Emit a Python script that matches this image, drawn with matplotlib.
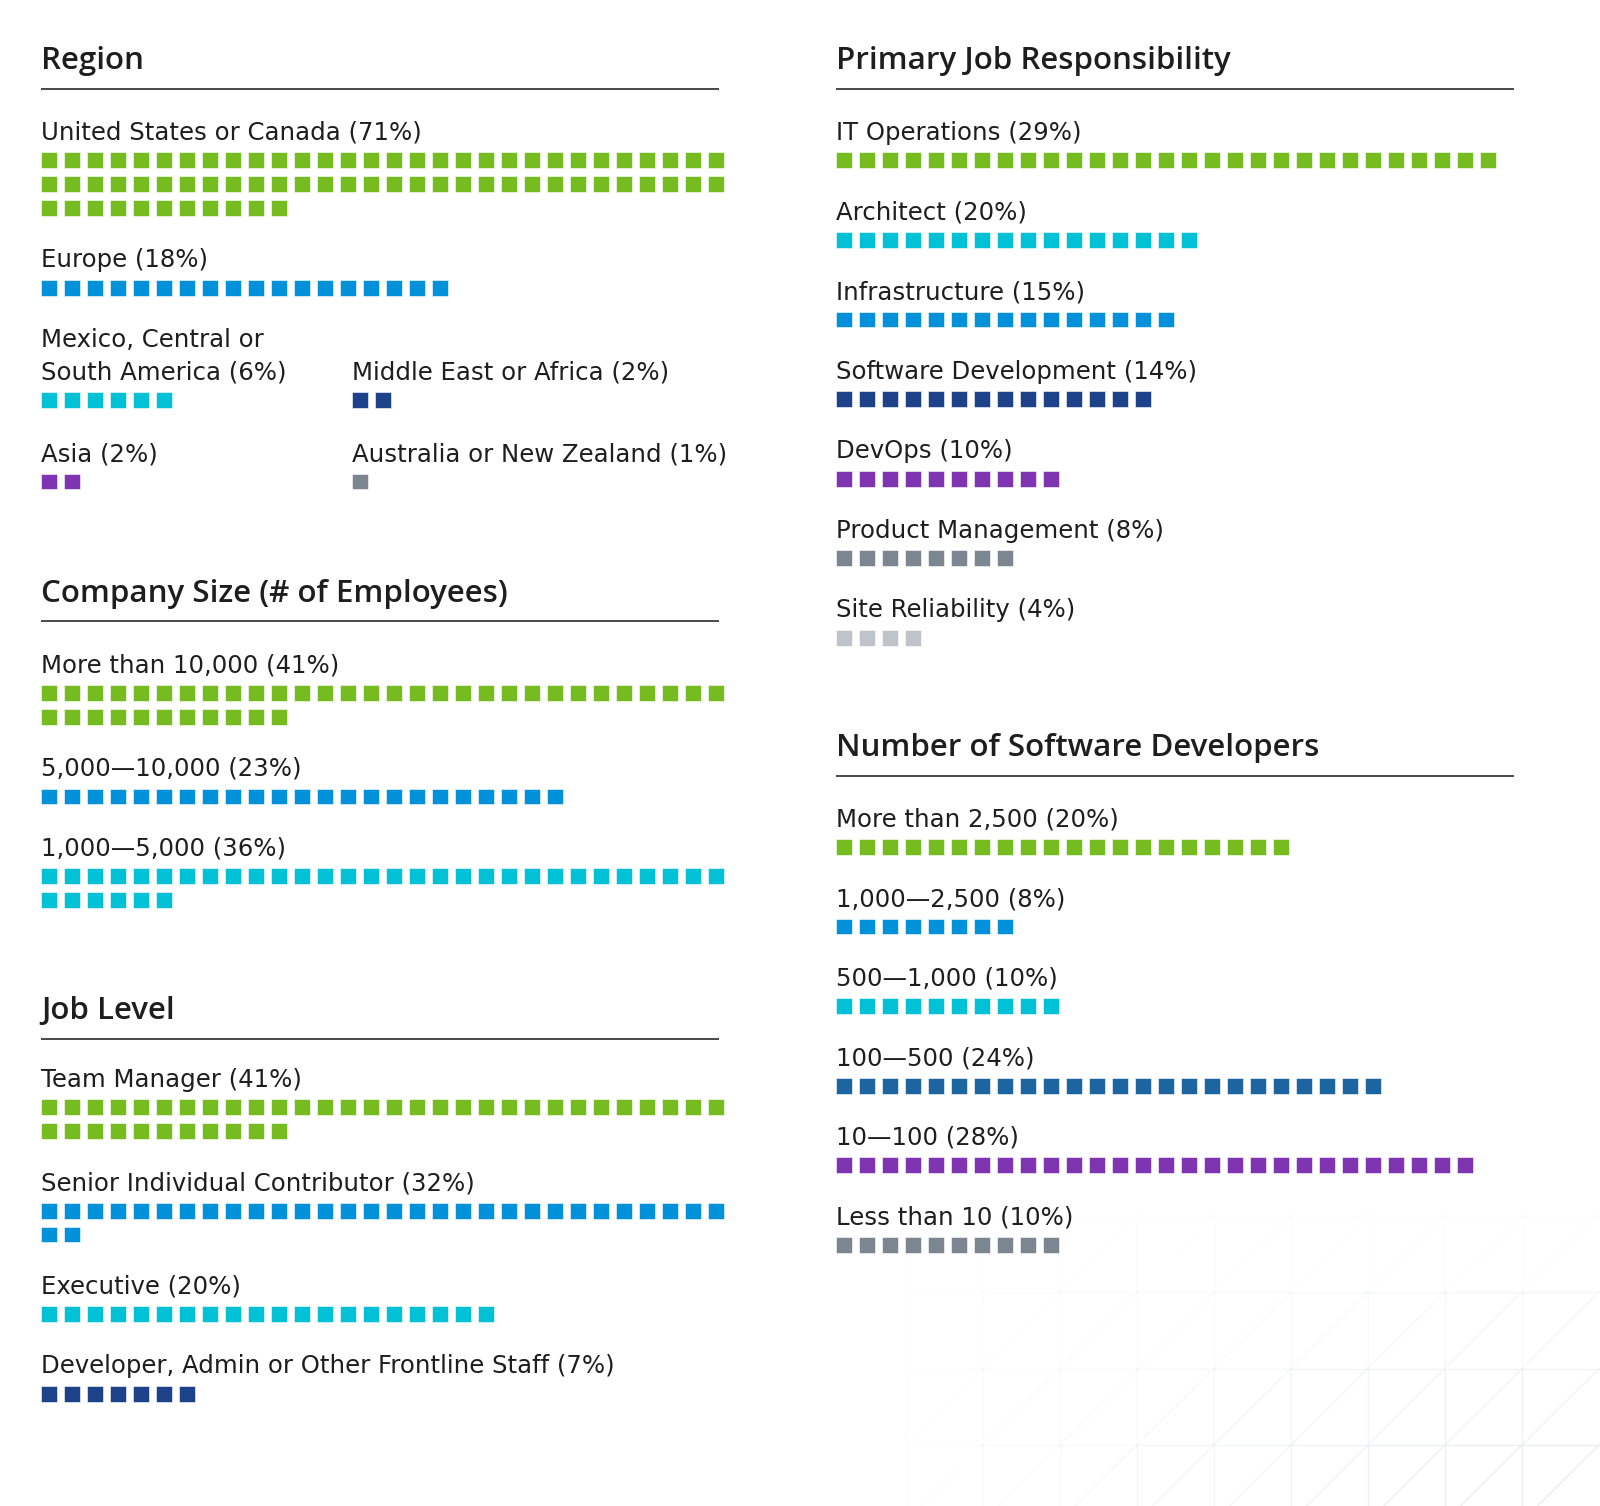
import numpy as np
import matplotlib
matplotlib.use("Agg")
import matplotlib.pyplot as plt

plt.rcParams["font.family"] = ["DejaVu Sans"]

# ---- data ----
region_labels = ["United States or Canada (71%)", "Europe (18%)",
                 "Mexico, Central or\nSouth America (6%)", "Middle East or Africa (2%)",
                 "Asia (2%)", "Australia or New Zealand (1%)"]
region_squares = [71, 18, 6, 2, 2, 1]

size_labels = ["More than 10,000 (41%)", "5,000\u201410,000 (23%)", "1,000\u20145,000 (36%)"]
size_squares = [41, 23, 36]

level_labels = ["Team Manager (41%)", "Senior Individual Contributor (32%)",
                "Executive (20%)", "Developer, Admin or Other Frontline Staff (7%)"]
level_squares = [41, 32, 20, 7]

job_labels = ["IT Operations (29%)", "Architect (20%)", "Infrastructure (15%)",
              "Software Development (14%)", "DevOps (10%)", "Product Management (8%)",
              "Site Reliability (4%)"]
job_squares = [29, 16, 15, 14, 10, 8, 4]

dev_labels = ["More than 2,500 (20%)", "1,000\u20142,500 (8%)", "500\u20141,000 (10%)",
              "100\u2014500 (24%)", "10\u2014100 (28%)", "Less than 10 (10%)"]
dev_squares = [20, 8, 10, 24, 28, 10]

GREEN, BLUE, CYAN, NAVY = "#76bc21", "#0091da", "#00c1d5", "#1e4289"
PURPLE, GRAY, LGRAY, STEEL = "#7f35b2", "#7b8690", "#bfc4ca", "#1c65a1"

region_colors = [GREEN, BLUE, CYAN, NAVY, PURPLE, GRAY]
size_colors = [GREEN, BLUE, CYAN]
level_colors = [GREEN, BLUE, CYAN, NAVY]
job_colors = [GREEN, CYAN, BLUE, NAVY, PURPLE, GRAY, LGRAY]
dev_colors = [GREEN, BLUE, CYAN, STEEL, PURPLE, GRAY]

# ---- layout (pixels) ----
W, H = 1600, 1506
LEFT_X, LEFT_X2, RIGHT_X = 41, 352, 836
LINE_W = 678
SQ, PITCH, ROW = 15.7, 23.0, 23.9
ITEM_GAP = 79.6
TXT = "#1e1e1e"
LABEL_FONT = dict(family=["DejaVu Sans"], weight="normal")
TITLE_FONT = dict(family=["Open Sans", "DejaVu Sans"], weight="semibold")

fig = plt.figure(figsize=(W / 100, H / 100), dpi=100)
ax = fig.add_axes([0, 0, 1, 1])
ax.set_xlim(0, W)
ax.set_ylim(H, 0)
ax.axis("off")
renderer = fig.canvas.get_renderer()


def fit_size(sample, target_px, font):
    # font size that gives the sample string the width measured on the reference
    t = ax.text(0, 0, sample, fontsize=20, **font)
    w = t.get_window_extent(renderer).width
    t.remove()
    return 20 * target_px / w


LABEL_FS = fit_size("United States or Canada (71%)", 378, LABEL_FONT)
TITLE_FS = fit_size("Primary Job Responsibility", 394, TITLE_FONT)

# faint triangular grid in the lower right corner
gx = 829 + 77 * np.arange(11)
gy = 1139 + 76.5 * np.arange(6)
for i in range(len(gx) - 1):
    for j in range(len(gy) - 1):
        x0, x1, y0, y1 = gx[i], gx[i + 1], gy[j], gy[j + 1]
        a = np.clip((x0 - 850) / 600, 0, 1) * np.clip((y0 - 1180) / 260, 0, 1)
        if a <= 0:
            continue
        kw = dict(color="#eceef0", lw=1.0, alpha=min(a, 1), zorder=0)
        ax.plot([x0, x1], [y0, y0], **kw)
        ax.plot([x0, x0], [y0, y1], **kw)
        ax.plot([x0, x1], [y1, y0], **kw)


def section(x, y, title):
    ax.text(x, y, title, fontsize=TITLE_FS, color=TXT, va="baseline", **TITLE_FONT)
    ax.plot([x, x + LINE_W], [y + 19.4, y + 19.4], color="#2a2a2a", lw=1.2,
            solid_capstyle="butt")


def item(x, y, label, n, color, per_row=30):
    lines = label.split("\n")
    for k, ln in enumerate(lines):
        ax.text(x, y + 32.7 * k, ln, fontsize=LABEL_FS, color=TXT, va="baseline",
                **LABEL_FONT)
    top = y + 32.7 * (len(lines) - 1) + 12.6
    idx = np.arange(n)
    xs = x + (idx % per_row) * PITCH
    ys = top + (idx // per_row) * ROW
    ax.bar(xs, SQ, width=SQ, bottom=ys, align="edge", color=color,
           edgecolor="white", linewidth=0.4, zorder=2)
    return (n - 1) // per_row + 1


def column(x, y, labels, counts, colors):
    for lab, n, c in zip(labels, counts, colors):
        rows = item(x, y, lab, n, c)
        y += ITEM_GAP + ROW * (rows - 1)


# Region (two-column block at the bottom)
section(LEFT_X, 69.4, "Region")
y = 139.8
item(LEFT_X, y, region_labels[0], region_squares[0], region_colors[0])
y += ITEM_GAP + 2 * ROW
item(LEFT_X, y, region_labels[1], region_squares[1], region_colors[1])
y += ITEM_GAP
item(LEFT_X, y, region_labels[2], region_squares[2], region_colors[2])
item(LEFT_X2, y + 32.7, region_labels[3], region_squares[3], region_colors[3])
y += 32.7 + ITEM_GAP + 2
item(LEFT_X, y, region_labels[4], region_squares[4], region_colors[4])
item(LEFT_X2, y, region_labels[5], region_squares[5], region_colors[5])

section(LEFT_X, 602, "Company Size (# of Employees)")
column(LEFT_X, 672.4, size_labels, size_squares, size_colors)

section(LEFT_X, 1019.4, "Job Level")
column(LEFT_X, 1086.7, level_labels, level_squares, level_colors)

section(RIGHT_X, 69.4, "Primary Job Responsibility")
column(RIGHT_X, 139.8, job_labels, job_squares, job_colors)

section(RIGHT_X, 756.1, "Number of Software Developers")
column(RIGHT_X, 826.5, dev_labels, dev_squares, dev_colors)

fig.savefig("out.png", dpi=100, facecolor="white")
